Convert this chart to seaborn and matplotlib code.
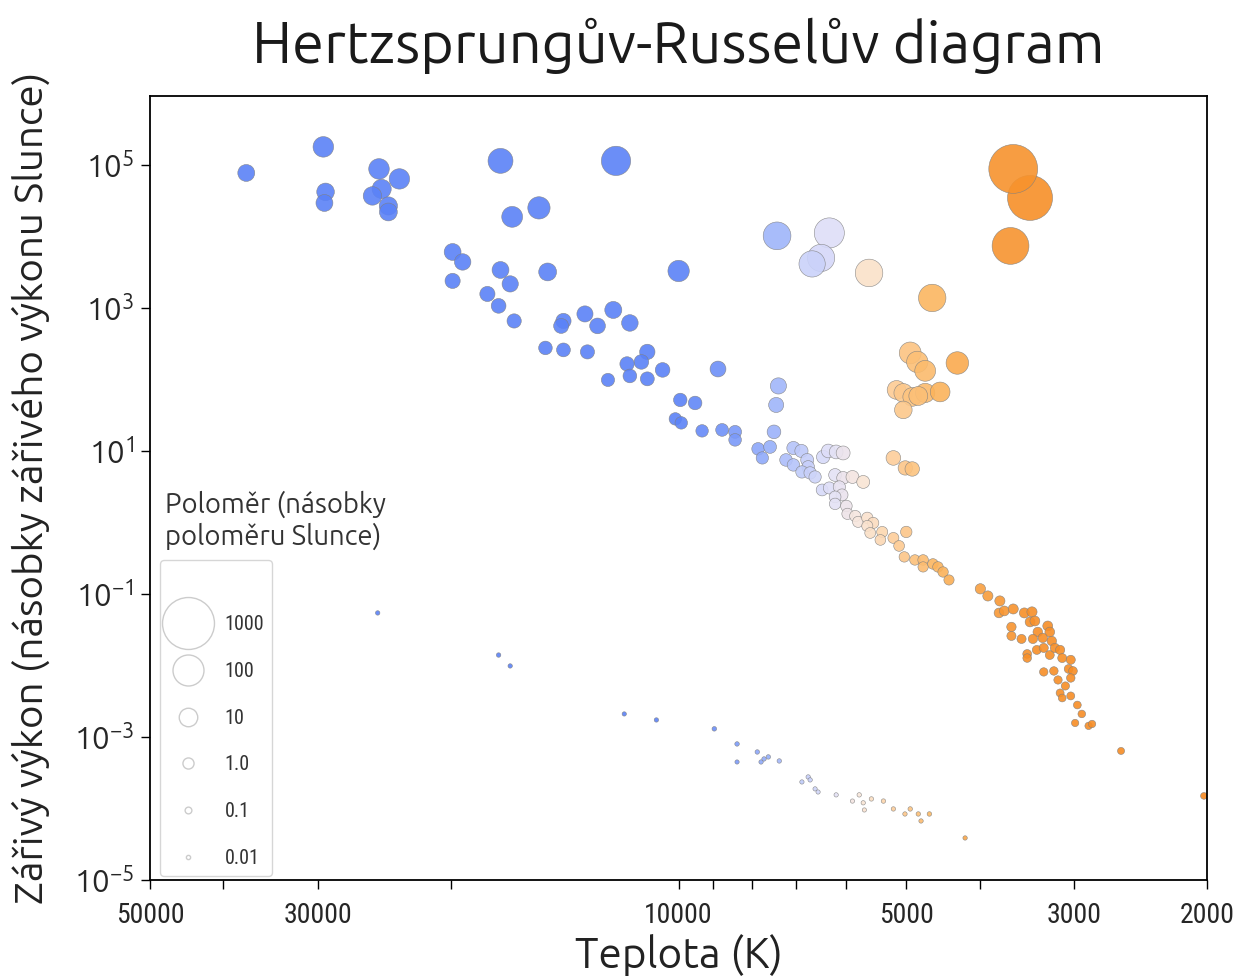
import numpy as np
import pandas as pd
import matplotlib
matplotlib.use("Agg")
import matplotlib.pyplot as plt
import matplotlib.colors as mcolors
from matplotlib.lines import Line2D
from matplotlib.ticker import NullLocator
from matplotlib import font_manager
import seaborn as sns

# ---------------- data ----------------
temperature = [
    37300, 29500, 29300, 29400, 24900, 23400, 24700, 25400, 24200, 24200,
    17200, 16600, 15300, 12100, 10000, 7410, 6320, 6480, 6660, 5600,
    3430, 3610, 3640, 4620,
    4940, 4835, 4720, 4280, 5150, 5045, 4910, 4720, 4510, 5045, 4820, 5200, 5015, 4910,
    19900, 19300, 19900, 17200, 16700, 14900, 17900, 17300, 16500, 14200,
    14300, 13300, 12800, 12200, 11600, 15000, 14200, 13200, 11000, 11200,
    11700, 11600, 11000, 10500, 12400, 8870, 9950, 9510, 10100, 9920,
    9310, 8760, 8420, 8420, 7850, 7570, 7750, 7380, 7430, 7480,
    7050, 6880, 7210, 7050, 6760, 6740, 6870, 6700, 6600, 6440,
    6340, 6190, 6060, 6210, 6060, 5890, 5700, 6460, 6320, 6130,
    6080, 6210, 6210, 6000, 5980, 5840, 5790, 5630, 5530, 5630,
    5580, 5380, 5410, 5200, 5110, 5000, 5030, 4870, 4750, 4750,
    4610, 4540, 4470, 4390,
    3990, 3900, 3760, 3770, 3710, 3610, 3490, 3410, 3430, 3380,
    3630, 3630, 3520, 3350, 3250, 3230, 3400, 3300, 3210, 3360,
    3290, 3460, 3460, 3230, 3180, 3130, 3110, 3030, 3050, 3010,
    3290, 3190, 3150, 3030, 3080, 3130, 3030, 3110, 2970, 2930,
    2990, 2870, 2840, 2600, 2020,
    25000, 17300, 16700, 11800, 10700, 8970, 8370, 8370, 7870, 7610,
    7780, 7710, 7360, 6870, 6740, 6700, 6600, 6540, 6190, 5890,
    5770, 5700, 5680, 5560, 5360, 5200, 4940, 5020, 4820, 4660,
    4780, 4180,
]
luminosity = [
    7.73e4, 1.79e5, 4.20e4, 2.94e4, 8.80e4, 6.38e4, 4.62e4, 3.69e4, 2.67e4, 2.20e4,
    1.14e5, 1.88e4, 2.51e4, 1.14e5, 3290, 1.02e4, 1.12e4, 5010, 4130, 3090,
    3.46e4, 8.80e4, 7370, 1380,
    235, 176, 132, 170, 71.4, 64.8, 57.0, 64.8, 66.9, 37.5, 58.8, 7.99, 5.79, 5.60,
    6070, 4400, 2390, 3400, 2170, 3190, 1570, 1070, 658, 658,
    561, 825, 561, 938, 617, 276, 259, 243, 243, 176,
    165, 112, 102, 136, 98.5, 140, 51.7, 46.9, 28.1, 24.7,
    19.1, 19.7, 18.5, 14.3, 10.7, 11.4, 7.99, 81.2, 44.0, 18.5,
    11.0, 10.0, 7.49, 6.38, 7.49, 5.98, 5.09, 4.93, 4.33, 8.25,
    10.0, 9.69, 9.38, 4.62, 4.20, 4.33, 3.69, 2.85, 3.04, 3.14,
    2.43, 2.28, 1.82, 1.70, 1.32, 1.23, 1.02, 1.16, 0.985, 0.894,
    0.714, 0.737, 0.570, 0.608, 0.470, 0.737, 0.330, 0.299, 0.299, 0.239,
    0.263, 0.239, 0.203, 0.157,
    0.118, 0.0938, 0.0799, 0.0543, 0.0579, 0.0617, 0.0543, 0.0561, 0.0406, 0.0419,
    0.0346, 0.0259, 0.0235, 0.0294, 0.0357, 0.0294, 0.0235, 0.0243, 0.0220, 0.0165,
    0.0176, 0.0145, 0.0127, 0.0140, 0.0176, 0.0165, 0.0127, 0.0120, 0.00894, 0.00838,
    0.00812, 0.00838, 0.00627, 0.00669, 0.00517, 0.00413, 0.00375, 0.00351, 0.00280, 0.00210,
    0.00157, 0.00143, 0.00152, 0.000638, 0.000150,
    0.0543, 0.0140, 0.00985, 0.00210, 0.00173, 0.00130, 0.000799, 0.000447, 0.000617, 0.000526,
    0.000447, 0.000493, 0.000462, 0.000235, 0.000276, 0.000251, 0.000188, 0.000170, 0.000155, 0.000127,
    0.000155, 0.000120, 0.0000953, 0.000136, 0.000127, 0.0000985, 0.0000985, 0.0000838, 0.0000838, 0.0000838,
    0.0000669, 0.0000387,
]
radius = [
    6.7, 16, 8.0, 6.7, 16, 15.5, 11.7, 10, 9.3, 8.5,
    38, 17, 23, 78, 19, 61, 88, 56, 48, 59,
    530, 760, 216, 58,
    21, 19, 17, 24, 10.6, 10.6, 10.5, 12.1, 13.4, 8.0, 11, 3.5, 3.2, 3.3,
    6.6, 5.9, 4.1, 6.6, 5.6, 8.5, 4.1, 3.6, 3.1, 4.2,
    3.9, 5.4, 4.8, 6.9, 6.1, 2.5, 2.7, 3.0, 4.3, 3.5,
    3.2, 2.6, 2.8, 3.5, 2.2, 5.0, 2.4, 2.5, 1.7, 1.7,
    1.7, 1.9, 2.0, 1.8, 1.8, 2.0, 1.6, 5.5, 4.0, 2.6,
    2.2, 2.2, 1.8, 1.7, 2.0, 1.8, 1.6, 1.65, 1.6, 2.3,
    2.6, 2.7, 2.8, 1.9, 1.9, 2.0, 2.0, 1.35, 1.46, 1.57,
    1.41, 1.31, 1.17, 1.21, 1.07, 1.09, 1.0, 1.13, 1.08, 1.0,
    0.91, 0.99, 0.86, 0.96, 0.88, 1.15, 0.76, 0.77, 0.81, 0.72,
    0.81, 0.79, 0.75, 0.69,
    0.72, 0.67, 0.67, 0.55, 0.58, 0.64, 0.64, 0.68, 0.57, 0.60,
    0.47, 0.41, 0.41, 0.51, 0.60, 0.55, 0.44, 0.48, 0.48, 0.38,
    0.41, 0.34, 0.31, 0.38, 0.44, 0.44, 0.39, 0.40, 0.34, 0.34,
    0.28, 0.30, 0.27, 0.30, 0.25, 0.22, 0.22, 0.20, 0.20, 0.18,
    0.15, 0.15, 0.16, 0.125, 0.10,
    0.0125, 0.0132, 0.0119, 0.0109, 0.012, 0.0149, 0.0135, 0.0101, 0.0134, 0.0132,
    0.0117, 0.0125, 0.0132, 0.0109, 0.0122, 0.0118, 0.0105, 0.0102, 0.0108, 0.0108,
    0.0125, 0.0112, 0.0101, 0.0126, 0.0131, 0.0122, 0.0136, 0.0122, 0.0132, 0.0141,
    0.012, 0.0119,
]

legend_radii = [1000, 100, 10, 1.0, 0.1, 0.01]
legend_labels = ["1000", "100", "10", "1.0", "0.1", "0.01"]
x_ticks = [50000, 40000, 30000, 20000, 10000, 9000, 8000, 7000, 6000, 5000, 4000, 3000, 2000]
x_labeled = [50000, 30000, 10000, 5000, 3000, 2000]
y_ticks = [1e-5, 1e-3, 1e-1, 1e1, 1e3, 1e5]

palette_temps = [2000, 3500, 4600, 5200, 5750, 6250, 6800, 7600, 8800, 10000]
palette_colors = ["#F68A22", "#F78F28", "#FBB660", "#FDCE9A", "#F9E7DA",
                  "#E2E1F8", "#C3CDFA", "#95AEFA", "#6E90F8", "#5B82F7"]

title_text = "Hertzsprungův-Russelův diagram"
xlabel_text = "Teplota (K)"
ylabel_text = "Zářivý výkon (násobky zářivého výkonu Slunce)"
legend_title_text = "Poloměr (násobky\npoloměru Slunce)"

# ---------------- fonts ----------------
available = {f.name for f in font_manager.fontManager.ttflist}


def pick(cands, default="DejaVu Sans"):
    for c in cands:
        if c in available:
            return c
    return default


main_font = pick(["Ubuntu", "Lato", "Open Sans", "Noto Sans"])
narrow_font = pick(["Ubuntu Condensed", "Liberation Sans Narrow", "Roboto Condensed",
                    "Open Sans Condensed", "DejaVu Sans"])

sns.set_theme(style="white")
plt.rcParams["font.family"] = [main_font, "DejaVu Sans"]
plt.rcParams["mathtext.fontset"] = "dejavusans"

# ---------------- figure ----------------
fig = plt.figure(figsize=(12.43, 9.77), dpi=100)
ax = fig.add_axes([0.1207, 0.0993, 0.8505, 0.8024])

df = pd.DataFrame({"Teplota": temperature, "Vykon": luminosity, "Polomer": radius})

lo_t, hi_t = palette_temps[0], palette_temps[-1]
cmap = mcolors.LinearSegmentedColormap.from_list(
    "hr", [((t - lo_t) / (hi_t - lo_t), c) for t, c in zip(palette_temps, palette_colors)])

size_norm = mcolors.PowerNorm(gamma=0.45, vmin=0, vmax=1000)
size_range = (1.5, 1400)

sns.scatterplot(data=df, x="Teplota", y="Vykon", hue="Teplota", size="Polomer",
                palette=cmap, hue_norm=(lo_t, hi_t), size_norm=size_norm, sizes=size_range,
                alpha=0.9, edgecolor="0.5", linewidth=0.4, legend=False, ax=ax)

ax.set_xscale("log")
ax.set_yscale("log")
ax.set_xlim(50000, 2000)
ax.set_ylim(1e-5, 9.2e5)

ax.set_xticks(x_ticks)
ax.set_xticklabels([str(t) if t in x_labeled else "" for t in x_ticks])
ax.xaxis.set_minor_locator(NullLocator())
ax.set_yticks(y_ticks)
ax.yaxis.set_minor_locator(NullLocator())

ax.tick_params(axis="both", which="major", direction="out", length=6.5, width=1.0,
               color="black", bottom=True, left=True)
ax.tick_params(axis="x", labelsize=20, pad=9)
ax.tick_params(axis="y", labelsize=22.5, pad=5)
for lab in ax.get_xticklabels():
    lab.set_family([narrow_font, "DejaVu Sans"])
for sp in ax.spines.values():
    sp.set_color("black")
    sp.set_linewidth(1.3)

ax.set_title(title_text, fontsize=41.5, pad=24, color="#1a1a1a")
ax.set_xlabel(xlabel_text, fontsize=30.5, labelpad=4, color="#222222")
ax.set_ylabel(ylabel_text, fontsize=29, labelpad=17, color="#222222")

# legend (sizes computed with the same mapping seaborn used)
handles = [Line2D([], [], linestyle="", marker="o", markersize=0, label=" ")]
for v, lab in zip(legend_radii, legend_labels):
    area = size_range[0] + (size_range[1] - size_range[0]) * float(size_norm(v))
    handles.append(Line2D([], [], linestyle="", marker="o", markersize=np.sqrt(area),
                          markerfacecolor="white", markeredgecolor="0.8",
                          markeredgewidth=1.0, label=lab))
leg = ax.legend(handles=handles, loc="upper left", bbox_to_anchor=(0.0095, 0.408),
                borderaxespad=0, prop={"family": [narrow_font, "DejaVu Sans"], "size": 14.5},
                labelspacing=1.38, frameon=True)
leg.get_frame().set_edgecolor("0.8")
for t in leg.get_texts():
    t.set_color("#333333")

ax.text(0.0142, 0.421, legend_title_text, transform=ax.transAxes, fontsize=19.8,
        ha="left", va="bottom", linespacing=1.2, color="#333333")

fig.savefig("out.png", dpi=100)
